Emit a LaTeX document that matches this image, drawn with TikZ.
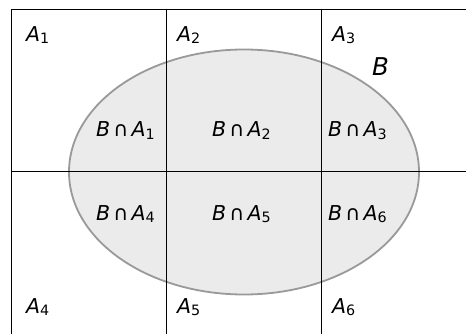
\documentclass[tikz,border=0pt]{standalone}
\usepackage{fontspec}
\setmainfont{DejaVu Sans}
\newcommand{\partA}[1]{\textit{A}\raisebox{-2pt}{\fontsize{14.3}{14.3}\selectfont #1}}
\newcommand{\capA}[1]{\textit{B}\hspace{3.2pt}∩\hspace{3.2pt}\partA{#1}}
\begin{document}
\begin{tikzpicture}[x=1pt,y=-1pt,
    lbl/.style={anchor=base west, inner sep=0pt, font=\fontsize{20.5}{20.5}\selectfont}]
  \useasboundingbox (0,0) rectangle (466,334);

  % The event B
  \draw[fill={rgb,255:red,235;green,235;blue,235}, draw={rgb,255:red,153;green,153;blue,153}, line width=1.8pt]
    (244,172) ellipse [x radius=175, y radius=122.5];

  % Partition lines
  \draw[line width=1pt] (466,9.5) -- (11,9.5) -- (11,334);
  \foreach \x in {166.5,321.5}{
    \draw[line width=1pt] (\x,9.5) -- (\x,334);
  }
  \draw[line width=1pt] (11,172) -- (466,172);

  % Labels of the parts
  \node[lbl] (a1) at (26,42) {\partA{1}};
  \node[lbl] (a2) at (177,42) {\partA{2}};
  \node[lbl] (a3) at (332,42) {\partA{3}};
  \node[lbl] (a4) at (26,313) {\partA{4}};
  \node[lbl] (a5) at (177,313) {\partA{5}};
  \node[lbl] (a6) at (332,313) {\partA{6}};
  \node[lbl, font=\fontsize{24.5}{24.5}\selectfont] (b) at (372,76) {\textit{B}};

  % Intersections with B
  \node[lbl] (ba1) at (96,137) {\capA{1}};
  \node[lbl] (ba2) at (212,137) {\capA{2}};
  \node[lbl] (ba3) at (328,137) {\capA{3}};
  \node[lbl] (ba4) at (96,220) {\capA{4}};
  \node[lbl] (ba5) at (212,220) {\capA{5}};
  \node[lbl] (ba6) at (328,220) {\capA{6}};
\end{tikzpicture}
\end{document}
